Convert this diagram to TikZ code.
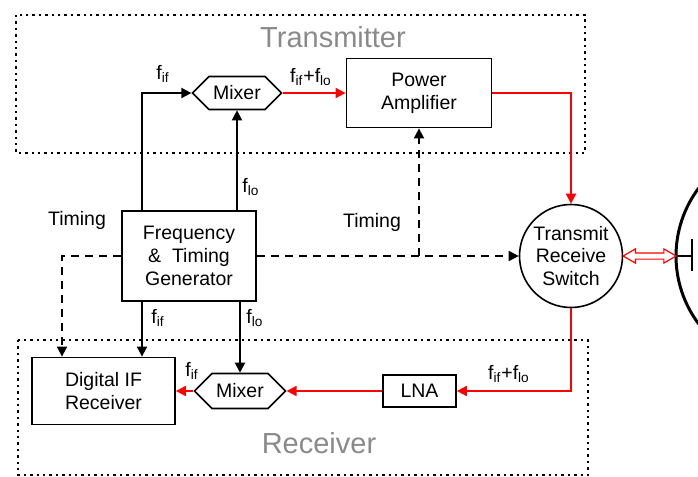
\documentclass[tikz,border=0pt]{standalone}
\usepackage{fontspec}
\setmainfont{Liberation Sans}
\usetikzlibrary{arrows.meta, calc, shapes.symbols, shapes.arrows}
\definecolor{rcol}{HTML}{FF0000}
\definecolor{gcol}{HTML}{8A8A8A}
\newcommand{\fsub}[1]{f\textsubscript{#1}}

\begin{document}
\begin{tikzpicture}[x=0.5pt, y=-0.5pt, >={Triangle[length=5pt, width=5pt]},
  every node/.style={font=\fontsize{9.75}{11.4}\selectfont},
  blk/.style={draw, line width=0.9pt, align=center, inner sep=0pt},
  mix/.style={draw, line width=0.8pt, signal, signal to=east and west,
    signal pointer angle=90, inner sep=0pt},
  sig/.style={line width=0.9pt},
  rf/.style={rcol, line width=0.9pt},
  tim/.style={line width=0.9pt, dash pattern=on 4pt off 3pt},
  zone/.style={line width=1.2pt, dotted},
  zlab/.style={gcol, font=\fontsize{14.5}{17}\selectfont}]
\useasboundingbox (0,0) rectangle (698,477);
% transmitter and receiver zones
\draw[zone] (16,15) rectangle (585,153);
\draw[zone] (18,340) rectangle (588,475);
\node[zlab] (txlab) at (333,37) {Transmitter};
\node[zlab] (rxlab) at (319,443) {Receiver};
% blocks
\node[blk, minimum width=67pt, minimum height=45pt] (ftg) at (189,256)
  {Frequency\\\&\ \ Timing\\Generator};
\node[blk, minimum width=72.5pt, minimum height=34.5pt] (pa) at (419,93)
  {Power\\Amplifier};
\node[blk, minimum width=71.5pt, minimum height=33.5pt] (dif) at (103.5,391)
  {Digital IF\\Receiver};
\node[blk, minimum width=36.5pt, minimum height=16pt] (lna) at (419.5,391) {LNA};
\node[mix, minimum width=44.5pt, minimum height=16.5pt] (txmix) at (237,93) {Mixer};
\node[mix, minimum width=45.5pt, minimum height=17.5pt] (rxmix) at (240,391) {Mixer};
\node[draw, circle, line width=0.8pt, align=center, inner sep=0pt,
  minimum size=51.5pt] (trsw) at (571,256) {Transmit\\Receive\\Switch};
% antenna
\coordinate (ant) at (676,256);
\draw[line width=1.5pt] (ant) arc[start angle=180, end angle=143, radius=113];
\draw[line width=1.5pt] (ant) arc[start angle=180, end angle=217, radius=113];
\draw[line width=1.3pt] (ant) -- ++(16,0) coordinate (feed);
\draw[line width=1.3pt] ($(feed)+(0,-17)$) -- ($(feed)+(0,15)$);
\node[draw=rcol, line width=0.6pt, double arrow, double arrow head extend=2pt,
  double arrow tip angle=60, inner sep=1.25pt, minimum height=26.5pt]
  (trx) at ($(trsw.east)!0.5!(ant)$) {};
% connectors
\coordinate (fifx) at (142,0);
\coordinate (timx) at (62,0);
\draw[sig,->] (fifx |- ftg.north) |- (txmix.west);
\draw[sig,->] (txmix.south |- ftg.north) -- (txmix.south);
\draw[rf,->] (txmix.east) -- (txmix.east -| pa.west);
\draw[rf,->] (pa.east) -| (trsw.north);
\draw[tim,->] (ftg.west) -| (timx |- dif.north);
\draw[tim,->] (ftg.east) -- (trsw.west);
\draw[tim,->] (pa.south |- trsw.west) -- (pa.south);
\draw[sig,->] (fifx |- ftg.south) -- (fifx |- dif.north);
\draw[sig,->] (rxmix.north |- ftg.south) -- (rxmix.north);
\draw[rf,->] (rxmix.west) -- (dif.east);
\draw[rf,->] (lna.west) -- (rxmix.east);
\draw[rf,->] (trsw.south) |- (lna.east);
% labels
\node (tml) at (77,220) {Timing};
\node (tmr) at (372,222) {Timing};
\node (l1) at (163,74) {\fsub{if}};
\node (l2) at (311,77) {\fsub{if}+\fsub{lo}};
\node (l3) at (251,187) {\fsub{lo}};
\node (l4) at (158,318) {\fsub{if}};
\node (l5) at (255,318) {\fsub{lo}};
\node (l6) at (192,371) {\fsub{if}};
\node (l7) at (509,374) {\fsub{if}+\fsub{lo}};
\end{tikzpicture}
\end{document}
